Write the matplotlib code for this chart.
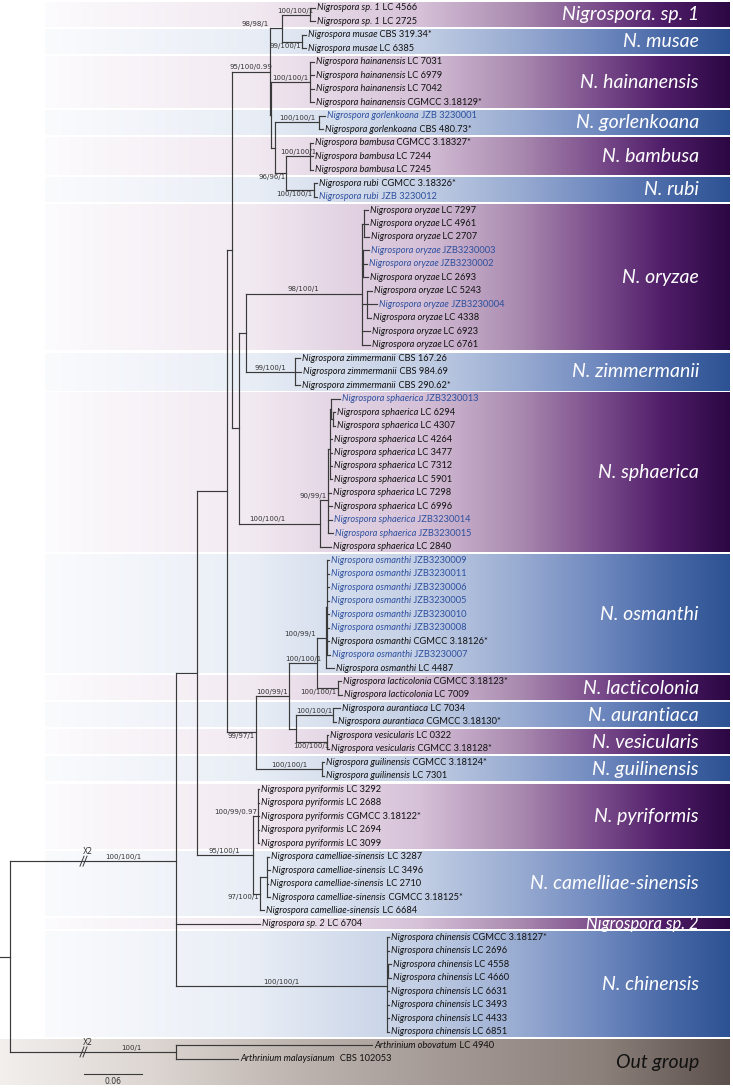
import numpy as np
import matplotlib.pyplot as plt
from matplotlib.collections import LineCollection
from matplotlib.colors import to_rgb

# Tree as drawn (branch lengths in substitutions/site, node names are internal ids)
newick = (
    "(((((("
    "((t0:0.006,t1:0.006)SP1:0.029,(t2:0.004,t3:0.004)MU:0.021)D1:0.012,"
    "((t4:0.004,t5:0.004,t6:0.004,t7:0.004)HA:0.040,((t8:0.006,t9:0.004)GO:0.046,"
    "((t10:0.003,t11:0.003,t12:0.003)BA:0.024,(t13:0.004,t14:0.004)RU:0.028)BR:0.012)D4:0.004)D3:0.001"
    ")D:0.039,("
    "(((t15:0.004,t16:0.004,t17:0.005)OR1:0.002,(t18:0.006,t19:0.004,t20:0.005)OR2:0.001,"
    "(t21:0.006,t22:0.011,t23:0.004)OR3:0.005,t24:0.008,t25:0.008)OR:0.120,"
    "(t26:0.005,t27:0.006,t28:0.005)ZI:0.051)E:0.007,"
    "((((t29:0.009,(t30:0.002,t31:0.002)SH4:0.002)SH3:0.001,t32:0.002,t33:0.002,t34:0.002,t35:0.002)SH2:0.002,"
    "t36:0.003,t37:0.004,t38:0.004,t39:0.005)SH1:0.008,t40:0.011)SH:0.084"
    ")C:0.007)A:0.005,("
    "((((t41:0.002,t42:0.002,t43:0.002,t44:0.002,t45:0.002,t46:0.002,t47:0.002,t48:0.003)OS1:0.001,"
    "t49:0.008)OS:0.009,(t50:0.003,t51:0.004)LA:0.021)OL:0.029,"
    "((t52:0.007,t53:0.003)AU:0.038,(t54:0.001,t55:0.002)VE:0.032)AV:0.007)B1:0.035,"
    "(t56:0.002,t57:0.002)GU:0.069"
    ")B:0.029)Q:0.032,"
    "((t58:0.001,t59:0.001,t60:0.001,t61:0.001,t62:0.001)PY:0.006,"
    "((t63:0.002,t64:0.003,t65:0.001,t66:0.003)CM1:0.007,t67:0.004)CM:0.008)PC:0.058"
    ")P:0.021,t68:0.087,"
    "(t69:0.002,t70:0.002,(t71:0.003,t72:0.003)CH1:0.001,t73:0.002,t74:0.002,t75:0.002,t76:0.002)CH:0.218"
    ")I:0.172,(t77:0.203,t78:0.064)O:0.172)R;"
)

species = ["Nigrospora sp. 1", "Nigrospora musae", "Nigrospora hainanensis", "Nigrospora gorlenkoana",
           "Nigrospora bambusa", "Nigrospora rubi", "Nigrospora oryzae", "Nigrospora zimmermanii",
           "Nigrospora sphaerica", "Nigrospora osmanthi", "Nigrospora lacticolonia", "Nigrospora aurantiaca",
           "Nigrospora vesicularis", "Nigrospora guilinensis", "Nigrospora pyriformis",
           "Nigrospora camelliae-sinensis", "Nigrospora sp. 2", "Nigrospora chinensis",
           "Arthrinium obovatum", "Arthrinium malaysianum"]
species_count = [2, 2, 4, 2, 3, 2, 11, 3, 12, 9, 2, 2, 2, 2, 5, 5, 1, 8, 1, 1]

strains = ["LC 4566", "LC 2725", "CBS 319.34*", "LC 6385", "LC 7031", "LC 6979", "LC 7042", "CGMCC 3.18129*",
           "JZB 3230001", "CBS 480.73*", "CGMCC 3.18327*", "LC 7244", "LC 7245", "CGMCC 3.18326*", "JZB 3230012",
           "LC 7297", "LC 4961", "LC 2707", "JZB3230003", "JZB3230002", "LC 2693", "LC 5243", "JZB3230004",
           "LC 4338", "LC 6923", "LC 6761", "CBS 167.26", "CBS 984.69", "CBS 290.62*", "JZB3230013", "LC 6294",
           "LC 4307", "LC 4264", "LC 3477", "LC 7312", "LC 5901", "LC 7298", "LC 6996", "JZB3230014",
           "JZB3230015", "LC 2840", "JZB3230009", "JZB3230011", "JZB3230006", "JZB3230005", "JZB3230010",
           "JZB3230008", "CGMCC 3.18126*", "JZB3230007", "LC 4487", "CGMCC 3.18123*", "LC 7009", "LC 7034",
           "CGMCC 3.18130*", "LC 0322", "CGMCC 3.18128*", "CGMCC 3.18124*", "LC 7301", "LC 3292", "LC 2688",
           "CGMCC 3.18122*", "LC 2694", "LC 3099", "LC 3287", "LC 3496", "LC 2710", "CGMCC 3.18125*", "LC 6684",
           "LC 6704", "CGMCC 3.18127*", "LC 2696", "LC 4558", "LC 4660", "LC 6631", "LC 3493", "LC 4433",
           "LC 6851", "LC 4940", " CBS 102053"]

support = {"SP1": "100/100/1", "D1": "98/98/1", "MU": "99/100/1", "D": "95/100/0.99", "HA": "100/100/1",
           "GO": "100/100/1", "BA": "100/100/1", "BR": "96/96/1", "RU": "100/100/1", "OR": "98/100/1",
           "ZI": "99/100/1", "SH": "100/100/1", "SH1": "90/99/1", "OS": "100/99/1", "OL": "100/100/1",
           "LA": "100/100/1", "B1": "100/99/1", "AU": "100/100/1", "VE": "100/100/1", "B": "99/97/1",
           "GU": "100/100/1", "PY": "100/99/0.97", "PC": "95/100/1", "CM": "97/100/1", "CH": "100/100/1",
           "I": "100/100/1", "O": "100/1"}

band_names = ["Nigrospora. sp. 1", "N. musae", "N. hainanensis", "N. gorlenkoana", "N. bambusa", "N. rubi",
              "N. oryzae", "N. zimmermanii", "N. sphaerica", "N. osmanthi", "N. lacticolonia", "N. aurantiaca",
              "N. vesicularis", "N. guilinensis", "N. pyriformis", "N. camelliae-sinensis", "Nigrospora sp. 2",
              "N. chinensis", "Out group"]
band_first = [0, 2, 4, 8, 10, 13, 15, 26, 29, 41, 50, 52, 54, 56, 58, 63, 68, 69, 77]
band_last = [1, 3, 7, 9, 12, 14, 25, 28, 40, 49, 51, 53, 55, 57, 62, 67, 68, 76, 78]
band_kind = ["p", "b"] * 9 + ["g"]

# placement of support labels: (side, ha, fraction along the branch)
sup_pos = {"D1": ("above", "right", 0.0), "MU": ("below", "right", 1.0), "BR": ("below", "right", 1.0),
           "RU": ("below", "right", 1.0), "SH": ("above", "left", 0.12), "SH1": ("above", "right", 1.0),
           "OS": ("above", "right", 0.0), "LA": ("below", "right", 1.0), "VE": ("below", "center", 0.5),
           "B": ("below", "center", 0.5), "PY": ("above", "right", 1.0), "CM": ("below", "right", 1.0),
           "I": ("above", "right", 0.8), "O": ("above", "right", 0.8)}


def parse(s):
    pos = 0

    def node():
        nonlocal pos
        kids = []
        if s[pos] == "(":
            pos += 1
            while True:
                kids.append(node())
                if s[pos] == ",":
                    pos += 1
                    continue
                pos += 1
                break
        st = pos
        while s[pos] not in ",():;":
            pos += 1
        name = s[st:pos]
        ln = 0.0
        if s[pos] == ":":
            pos += 1
            st = pos
            while s[pos] not in ",();":
                pos += 1
            ln = float(s[st:pos])
        return {"name": name, "len": ln, "kids": kids}

    return node()


def layout(n, px):
    n["x"] = px + n["len"]
    n["px"] = px
    if n["kids"]:
        for c in n["kids"]:
            layout(c, n["x"])
        n["y"] = np.mean([c["y"] for c in n["kids"]])
    else:
        n["y"] = int(n["name"][1:])


tree = parse(newick)
layout(tree, 0.0)

k = 0.06 / 58          # substitutions per pixel
dy = 13.47             # pixels per tip
W, H = 733, 1088


def xd(p):
    return (p - 10) * k


fig = plt.figure(figsize=(W / 100, H / 100), dpi=100)
ax = fig.add_axes([0, 0, 1, 1])
ax.axis("off")

ramps = {
    "p": [(45, "#fcfbfd"), (250, "#f2eaf1"), (420, "#d6c1d8"), (520, "#a98aaf"), (600, "#7a4c8b"),
          (665, "#4f1d68"), (730, "#2b0843")],
    "b": [(45, "#fafbfd"), (250, "#e9eef6"), (420, "#c3cfe5"), (520, "#98abd1"), (600, "#6f89bf"),
          (665, "#4a6aa8"), (730, "#2d5293")],
    "g": [(0, "#f2efed"), (150, "#ddd6d2"), (300, "#bdb4af"), (450, "#a39893"), (600, "#8c817b"),
          (730, "#5b504b")],
}
gap = 1.3 / dy
for name, f, l, kind in zip(band_names, band_first, band_last, band_kind):
    stops = ramps[kind]
    x0p, x1p = stops[0][0], stops[-1][0]
    xs = np.linspace(x0p, x1p, 400)
    cols = np.array([to_rgb(c) for _, c in stops])
    sp = [p for p, _ in stops]
    img = np.stack([np.interp(xs, sp, cols[:, j]) for j in range(3)], axis=-1)[None, :, :]
    y0 = f - 0.5 + gap
    y1 = (l + 0.5 - gap) if kind != "g" else (1085 - 8) / dy
    ax.imshow(img, extent=[xd(x0p), xd(x1p), y1, y0], aspect="auto", interpolation="bilinear", zorder=0)
    ax.text(xd(699), (f + l) / 2 if kind != "g" else (y0 + y1) / 2, name, ha="right", va="center",
            fontsize=12 if f == l else 14, style="italic", family="Lato",
            color="#111111" if kind == "g" else "white", zorder=3)

# branches
tips = []
root_ys = [c["y"] for c in tree["kids"]]
segs = [[(xd(0), tree["y"]), (0, tree["y"])], [(0, min(root_ys)), (0, max(root_ys))]]


def collect(n):
    segs.append([(n["px"], n["y"]), (n["x"], n["y"])])
    if n["kids"]:
        ys = [c["y"] for c in n["kids"]]
        segs.append([(n["x"], min(ys)), (n["x"], max(ys))])
        for c in n["kids"]:
            collect(c)
    else:
        tips.append(n)


for c in tree["kids"]:
    collect(c)
ax.add_collection(LineCollection(segs, colors="#3a3a3a", linewidths=0.85, capstyle="projecting", zorder=2))

# tip labels
tip_species = [s for s, c in zip(species, species_count) for _ in range(c)]
for n in tips:
    i = n["y"]
    col = "#2c4f9e" if strains[i].startswith("JZB") else "#111111"
    t = ax.text(n["x"] + 2 * k, i, tip_species[i], style="italic", fontsize=6.7, color=col,
                va="center", ha="left", family="Lato", zorder=4)
    ax.annotate(" " + strains[i], xy=(1, 0), xycoords=t, va="bottom", ha="left", fontsize=6.7,
                color=col, family="Lato", zorder=4)


# support values
def label_support(n):
    if n["name"] in support:
        side, ha, fr = sup_pos.get(n["name"], ("above", "center", 0.5))
        x = n["px"] + fr * (n["x"] - n["px"])
        dx = -0.8 if ha == "right" else 0
        ax.annotate(support[n["name"]], (x, n["y"]), xytext=(dx, 0.8 if side == "above" else -0.6),
                    textcoords="offset points", ha=ha, va="bottom" if side == "above" else "top",
                    fontsize=5, color="#333333", family=["Liberation Sans Narrow", "DejaVu Sans"], zorder=4)
    for c in n["kids"]:
        label_support(c)


label_support(tree)

# x2 break marks on the two root branches
for n in tree["kids"]:
    for off in (0, 3):
        xb = xd(82 + off)
        ax.plot([xb - 2 * k, xb + 2 * k], [n["y"] + 5 / dy, n["y"] - 5 / dy], color="#3a3a3a", lw=0.7, zorder=3)
    ax.text(xd(88), n["y"] - 5 / dy, "X2", ha="center", va="bottom", fontsize=5.5, color="#333333",
            family=["Liberation Sans Narrow", "DejaVu Sans"], zorder=4)

# scale bar
ys = (1074 - 8) / dy
ax.plot([xd(84), xd(84) + 0.06], [ys, ys], color="#3a3a3a", lw=0.8, zorder=3)
ax.text(xd(84) + 0.03, ys + 3 / dy, "0.06", ha="center", va="top", fontsize=5.5, color="#333333",
        family=["Liberation Sans Narrow", "DejaVu Sans"], zorder=4)

ax.set_xlim(xd(0), xd(W))
ax.set_ylim((H - 8) / dy, -8 / dy)
fig.savefig("out.png", dpi=100)
